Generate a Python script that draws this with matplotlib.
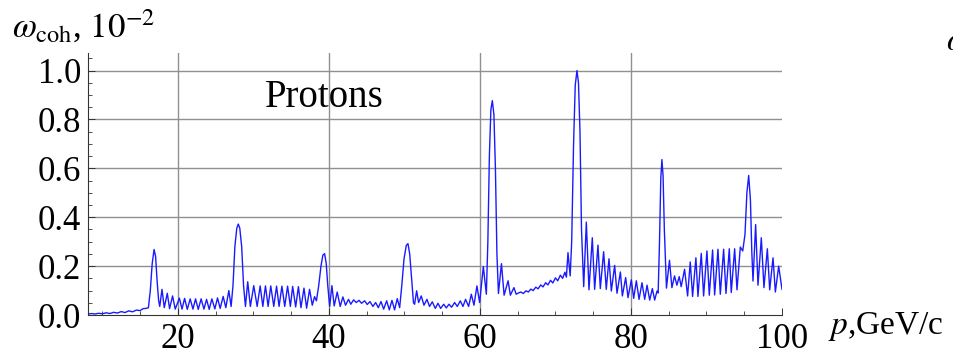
import numpy as np
import matplotlib
matplotlib.use('Agg')
import matplotlib.pyplot as plt
from matplotlib.ticker import MultipleLocator, FormatStrFormatter

plt.rcParams['font.family'] = 'serif'
plt.rcParams['font.serif'] = ['Liberation Serif', 'DejaVu Serif']
plt.rcParams['mathtext.fontset'] = 'stix'

# momentum p (GeV/c) and coherent probability w (units of 1e-2)
p = [8.1, 8.6, 9.0, 9.5, 10.0, 10.5, 11.0, 11.5, 12.0, 12.5, 13.0, 13.5, 14.0, 14.5,
     15.0, 15.4, 15.8, 16.1,
     16.35, 16.6, 16.85, 17.05, 17.25, 17.45, 17.6,
     17.9, 18.2, 18.6, 18.9, 19.3, 19.65, 20.2, 20.55, 20.89, 21.25, 21.63, 22.0,
     22.34, 22.7, 23.08, 23.45, 23.8, 24.15, 24.5, 24.9, 25.25, 25.6, 26.0, 26.35,
     26.75, 27.05,
     27.3, 27.55, 27.8, 28.0, 28.2, 28.45, 28.7, 28.95,
     29.25, 29.6, 30.05, 30.5, 30.9, 31.25, 31.6, 31.95, 32.3, 32.7, 33.07, 33.4,
     33.78, 34.15, 34.53, 34.9, 35.2, 35.6, 35.96, 36.3, 36.7, 37.05, 37.44, 37.8,
     38.1, 38.35,
     38.65, 38.95, 39.2, 39.43, 39.65, 39.85, 40.1,
     40.4, 40.7, 41.1, 41.5, 41.85, 42.2, 42.6, 42.9, 43.27, 43.62, 43.98, 44.33,
     44.73, 45.08, 45.44, 45.83, 46.19, 46.54, 46.9, 47.25, 47.65, 48.0, 48.35, 48.7,
     49.05, 49.37,
     49.65, 49.95, 50.25, 50.47, 50.7, 50.95, 51.2, 51.35,
     51.62, 51.88, 52.23, 52.59, 52.98, 53.33, 53.69, 54.09, 54.44, 54.8, 55.2, 55.55,
     55.9, 56.25, 56.65, 57.0, 57.4, 57.75, 58.1, 58.5, 58.86, 59.21, 59.6, 59.96,
     60.45, 60.85,
     61.05, 61.25, 61.45, 61.64, 61.85, 62.05, 62.25, 62.45,
     62.85, 63.2, 63.73, 64.03, 64.5, 64.8, 65.1, 65.4, 65.75, 66.1, 66.4, 66.75,
     67.05, 67.4, 67.7, 68.05, 68.35, 68.7, 69.0, 69.35, 69.65, 70.0, 70.3, 70.65,
     70.95, 71.25, 71.45, 71.66, 71.95,
     72.15, 72.4, 72.62, 72.85, 73.05, 73.25, 73.45, 73.74,
     74.09, 74.44, 74.88, 75.19, 75.63, 75.94, 76.38, 76.73, 77.09, 77.4, 77.84, 78.15,
     78.6, 78.86, 79.3, 79.61, 80.05, 80.36, 80.71, 81.07, 81.46, 81.82, 82.13, 82.48,
     82.83, 83.14, 83.45, 83.6,
     83.78, 83.95, 84.1, 84.25, 84.42, 84.7,
     85.1, 85.42, 85.77, 86.08, 86.39, 86.65, 87.1, 87.5, 87.85, 88.16, 88.6, 88.87,
     89.31, 89.62, 90.06, 90.37, 90.81, 91.08, 91.52, 91.83, 92.27, 92.58, 93.02, 93.28,
     93.73, 94.04, 94.48, 94.8,
     95.1, 95.35, 95.59, 95.82, 96.0, 96.16,
     96.51, 96.82, 97.26, 97.61, 98.06, 98.37, 98.81, 99.12, 99.56, 100.0]

w = [0.004, 0.006, 0.004, 0.007, 0.005, 0.009, 0.006, 0.011, 0.008, 0.014, 0.010, 0.017, 0.013, 0.020,
     0.018, 0.026, 0.027, 0.030,
     0.10, 0.21, 0.268, 0.24, 0.14, 0.06, 0.035,
     0.105, 0.030, 0.089, 0.026, 0.078, 0.024, 0.069, 0.024, 0.068, 0.023, 0.066, 0.024,
     0.066, 0.023, 0.066, 0.024, 0.064, 0.023, 0.066, 0.025, 0.070, 0.027, 0.076, 0.030,
     0.100, 0.035,
     0.12, 0.28, 0.355, 0.372, 0.355, 0.28, 0.12, 0.035,
     0.136, 0.035, 0.120, 0.035, 0.119, 0.035, 0.119, 0.035, 0.119, 0.035, 0.118, 0.035,
     0.118, 0.035, 0.118, 0.035, 0.117, 0.033, 0.116, 0.030, 0.110, 0.028, 0.105, 0.040,
     0.075, 0.058,
     0.12, 0.20, 0.245, 0.251, 0.21, 0.12, 0.035,
     0.120, 0.037, 0.094, 0.035, 0.074, 0.040, 0.064, 0.044, 0.062, 0.051, 0.060, 0.048,
     0.058, 0.043, 0.055, 0.035, 0.051, 0.030, 0.055, 0.024, 0.058, 0.021, 0.060, 0.021,
     0.067, 0.030,
     0.12, 0.23, 0.285, 0.292, 0.25, 0.15, 0.05, 0.044,
     0.099, 0.051, 0.078, 0.040, 0.064, 0.035, 0.054, 0.027, 0.048, 0.027, 0.044, 0.029,
     0.044, 0.032, 0.051, 0.035, 0.058, 0.035, 0.064, 0.035, 0.085, 0.040, 0.119, 0.051,
     0.198, 0.085,
     0.30, 0.65, 0.84, 0.877, 0.82, 0.60, 0.25, 0.088,
     0.210, 0.081, 0.140, 0.081, 0.112, 0.085, 0.090, 0.094, 0.088, 0.099, 0.094, 0.106,
     0.100, 0.114, 0.107, 0.123, 0.115, 0.132, 0.123, 0.142, 0.131, 0.152, 0.140, 0.163,
     0.150, 0.175, 0.155, 0.255, 0.160,
     0.30, 0.70, 0.94, 1.0, 0.95, 0.75, 0.35, 0.116,
     0.380, 0.103, 0.316, 0.105, 0.286, 0.108, 0.259, 0.105, 0.230, 0.098, 0.203, 0.089,
     0.176, 0.078, 0.153, 0.071, 0.144, 0.068, 0.140, 0.064, 0.132, 0.064, 0.122, 0.061,
     0.108, 0.061, 0.098, 0.090,
     0.30, 0.56, 0.636, 0.57, 0.35, 0.110,
     0.224, 0.112, 0.160, 0.122, 0.157, 0.116, 0.187, 0.078, 0.217, 0.076, 0.234, 0.076,
     0.252, 0.078, 0.262, 0.081, 0.266, 0.082, 0.269, 0.085, 0.269, 0.088, 0.271, 0.092,
     0.271, 0.103, 0.278, 0.262,
     0.33, 0.50, 0.571, 0.47, 0.26, 0.139,
     0.370, 0.122, 0.316, 0.112, 0.271, 0.103, 0.234, 0.094, 0.200, 0.105]

x_major = [20, 40, 60, 80, 100]
y_major = [0.0, 0.2, 0.4, 0.6, 0.8, 1.0]

fig = plt.figure(figsize=(9.54, 3.55), dpi=100)
ax = fig.add_axes([88 / 954, 40 / 355, 694 / 954, 262 / 355])

ax.plot(p, w, color='#1a1aff', lw=1.0)

ax.set_xlim(8.1, 100)
ax.set_ylim(0, 1.072)

ax.spines['top'].set_visible(False)
ax.spines['right'].set_visible(False)
for s in ['left', 'bottom']:
    ax.spines[s].set_color('#333333')
    ax.spines[s].set_linewidth(0.8)

ax.set_xticks(x_major)
ax.set_yticks(y_major)
ax.xaxis.set_minor_locator(MultipleLocator(5))
ax.yaxis.set_minor_locator(MultipleLocator(0.05))
ax.yaxis.set_major_formatter(FormatStrFormatter('%.1f'))
ax.tick_params(which='both', direction='in', colors='#333333', labelcolor='black',
               labelsize=25)
ax.tick_params(which='major', length=5, width=0.7)
ax.tick_params(which='minor', length=3, width=0.6)
ax.tick_params(axis='x', pad=6)
ax.tick_params(axis='y', pad=5)

ax.grid(True, which='major', color='#909090', lw=1.0)
ax.get_xgridlines()[-1].set_visible(False)
ax.get_ygridlines()[0].set_visible(False)

ax.text(31.5, 0.852, 'Protons', fontsize=28, ha='left', va='baseline')

fig.text(12 / 954, 1 - 38 / 355, r'$\omega_{\rm coh}$, $10^{-2}$', fontsize=25,
         ha='left', va='baseline')
fig.text(828 / 954, 1 - 334 / 355, r'$p$,GeV/c', fontsize=24, ha='left', va='baseline')
fig.text(946 / 954, 1 - 50 / 355, r'$\omega$', fontsize=24, ha='left', va='baseline')

fig.savefig('out.png', dpi=100)
